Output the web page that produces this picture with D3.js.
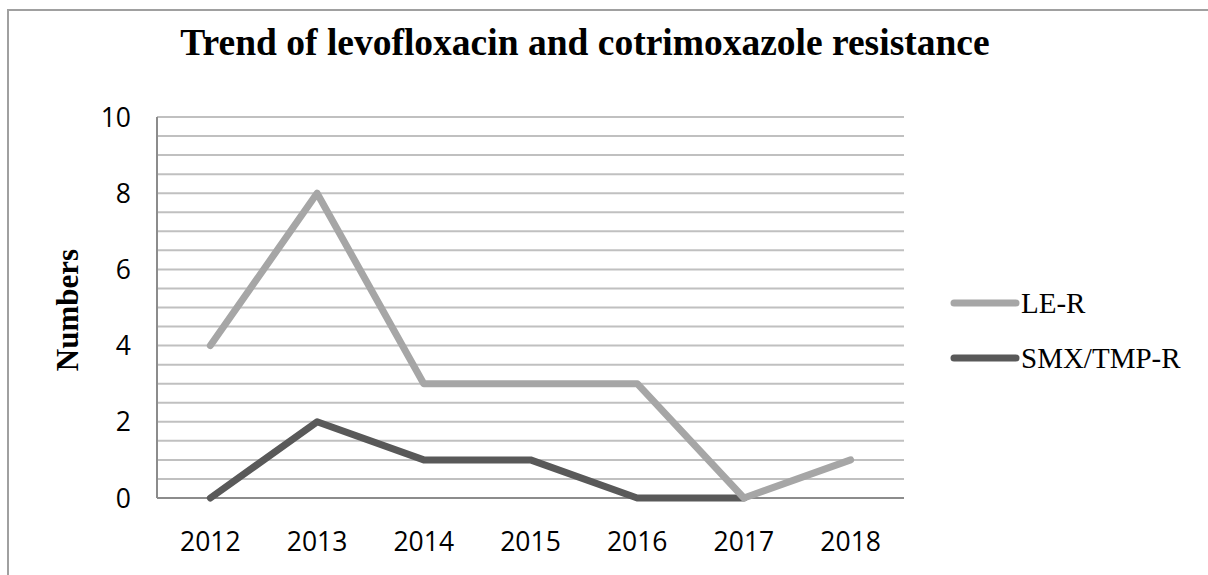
<!DOCTYPE html>
<html>
<head>
<meta charset="utf-8">
<script src="https://cdn.jsdelivr.net/npm/d3@7"></script>
<style>
  html, body { margin: 0; padding: 0; background: #fff; }
  svg { display: block; }
</style>
</head>
<body>
<script>
const categories = ["2012", "2013", "2014", "2015", "2016", "2017", "2018"];
const seriesNames = ["LE-R", "SMX/TMP-R"];
const leR = [4, 8, 3, 3, 3, 0, 1];
const smxTmpR = [0, 2, 1, 1, 0, 0, null];
const yTicks = [0, 2, 4, 6, 8, 10];
const seriesColors = ["#a6a6a6", "#595959"];

const W = 1208, H = 575;
const svg = d3.select("body").append("svg").attr("width", W).attr("height", H);

// outer frame
svg.append("path")
  .attr("d", "M8,576 L8,10 L1210,10")
  .attr("fill", "none").attr("stroke", "#a0a0a0").attr("stroke-width", 2);

const pLeft = 157, pRight = 904, pTop = 117, pBottom = 498;
const x = d3.scaleBand().domain(categories).range([pLeft, pRight]).padding(0);
const y = d3.scaleLinear().domain([0, 10]).range([pBottom, pTop]);

// gridlines every 0.5
const gridVals = d3.range(0.5, 10.01, 0.5);
svg.append("g").selectAll("line").data(gridVals).join("line")
  .attr("x1", pLeft).attr("x2", pRight)
  .attr("y1", d => y(d)).attr("y2", d => y(d))
  .attr("stroke", "#c0c0c0").attr("stroke-width", 2);

// axes lines
svg.append("line").attr("x1", pLeft).attr("x2", pLeft).attr("y1", pTop).attr("y2", pBottom)
  .attr("stroke", "#8c8c8c").attr("stroke-width", 2);
svg.append("line").attr("x1", pLeft).attr("x2", pRight).attr("y1", pBottom).attr("y2", pBottom)
  .attr("stroke", "#8c8c8c").attr("stroke-width", 2);

// y tick labels
svg.append("g").selectAll("text").data(yTicks).join("text")
  .attr("x", 131).attr("y", d => y(d)).attr("dy", "0.36em")
  .attr("text-anchor", "end")
  .attr("font-family", "'Open Sans', 'Liberation Sans', sans-serif")
  .attr("font-size", 26.5).attr("fill", "#000")
  .text(d => d);

// x tick labels
svg.append("g").selectAll("text").data(categories).join("text")
  .attr("x", d => x(d) + x.bandwidth() / 2).attr("y", 551)
  .attr("text-anchor", "middle")
  .attr("font-family", "'Open Sans', 'Liberation Sans', sans-serif")
  .attr("font-size", 26.5).attr("fill", "#000")
  .text(d => d);

// lines
const line = d3.line()
  .defined(d => d.v !== null)
  .x(d => x(d.c) + x.bandwidth() / 2)
  .y(d => y(d.v));

const data = [leR, smxTmpR];
[1, 0].forEach(i => {
  const pts = categories.map((c, j) => ({ c, v: data[i][j] }));
  svg.append("path").datum(pts)
    .attr("d", line)
    .attr("fill", "none")
    .attr("stroke", seriesColors[i])
    .attr("stroke-width", 7)
    .attr("stroke-linejoin", "round")
    .attr("stroke-linecap", "round");
});

// title
svg.append("text")
  .attr("x", 585).attr("y", 55)
  .attr("text-anchor", "middle")
  .attr("font-family", "'Liberation Serif', 'DejaVu Serif', serif")
  .attr("font-weight", "bold").attr("font-size", 37.5)
  .text("Trend of levofloxacin and cotrimoxazole resistance");

// y axis title
svg.append("text")
  .attr("transform", "translate(78,310) rotate(-90)")
  .attr("text-anchor", "middle")
  .attr("font-family", "'Liberation Serif', 'DejaVu Serif', serif")
  .attr("font-weight", "bold").attr("font-size", 31)
  .text("Numbers");

// legend
const legendY = [303, 358];
seriesNames.forEach((n, i) => {
  svg.append("line")
    .attr("x1", 954).attr("x2", 1016)
    .attr("y1", legendY[i]).attr("y2", legendY[i])
    .attr("stroke", seriesColors[i]).attr("stroke-width", 7)
    .attr("stroke-linecap", "round");
  svg.append("text")
    .attr("x", 1021).attr("y", legendY[i]).attr("dy", "0.35em")
    .attr("font-family", "'Liberation Serif', 'DejaVu Serif', serif")
    .attr("font-size", 29).attr("fill", "#000")
    .text(n);
});
</script>
</body>
</html>
